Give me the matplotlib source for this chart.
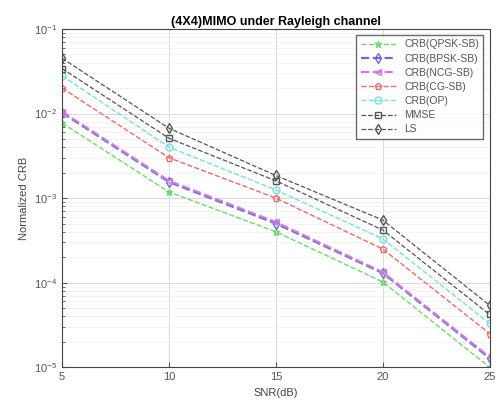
import matplotlib.pyplot as plt
import numpy as np

plt.rcParams["font.family"] = ["Liberation Sans", "DejaVu Sans"]

snr = [5, 10, 15, 20, 25]
crb_qpsk = [7.7e-3, 1.18e-3, 4.0e-4, 1.02e-4, 1.0e-5]
crb_bpsk = [1.02e-2, 1.55e-3, 5.0e-4, 1.30e-4, 1.28e-5]
crb_ncg = [1.05e-2, 1.6e-3, 5.2e-4, 1.33e-4, 1.32e-5]
crb_cg = [2.0e-2, 3.0e-3, 1.0e-3, 2.5e-4, 2.5e-5]
crb_op = [2.8e-2, 4.0e-3, 1.25e-3, 3.3e-4, 3.3e-5]
mmse = [3.4e-2, 5.1e-3, 1.6e-3, 4.2e-4, 4.2e-5]
ls = [4.5e-2, 6.7e-3, 1.85e-3, 5.5e-4, 5.4e-5]

series = [
    ("CRB(QPSK-SB)", crb_qpsk, "#6fd96f", "*", 1.0),
    ("CRB(BPSK-SB)", crb_bpsk, "#6a6ad0", "d", 1.6),
    ("CRB(NCG-SB)", crb_ncg, "#d07ae0", "<", 1.6),
    ("CRB(CG-SB)", crb_cg, "#ec6a6a", "p", 1.0),
    ("CRB(OP)", crb_op, "#7adede", "o", 1.0),
    ("MMSE", mmse, "#555555", "s", 0.9),
    ("LS", ls, "#555555", "d", 0.9),
]

fig = plt.figure(figsize=(4.97, 4.08), dpi=100)
ax = fig.add_axes([0.125, 0.10, 0.86, 0.829])

for name, vals, col, mk, lw in series:
    ax.semilogy(snr, vals, linestyle="--", color=col, marker=mk, markersize=5,
                markerfacecolor="none", markeredgecolor=col, linewidth=lw, label=name)

ax.set_xlim(5, 25)
ax.set_ylim(1e-5, 1e-1)
ax.set_xticks(snr)
ax.grid(True, which="major", color="#d8d8d8", linewidth=0.7)
ax.grid(True, which="minor", color="#eeeeee", linewidth=0.5)
ax.tick_params(axis="both", labelsize=8, colors="#555555", direction="in", which="both")
for s in ax.spines.values():
    s.set_color("#444444")
ax.set_title("(4X4)MIMO under Rayleigh channel", fontsize=9, fontweight="bold", pad=3)
ax.set_xlabel("SNR(dB)", fontsize=8, color="#444444")
ax.set_ylabel("Normalized CRB", fontsize=8, color="#444444")
leg = ax.legend(loc="upper right", fontsize=7.5, frameon=True, fancybox=False,
                edgecolor="#444444", handlelength=3.4, labelspacing=0.4,
                borderaxespad=0.6)
for t in leg.get_texts():
    t.set_color("#555555")

fig.savefig("out.png", dpi=100)
